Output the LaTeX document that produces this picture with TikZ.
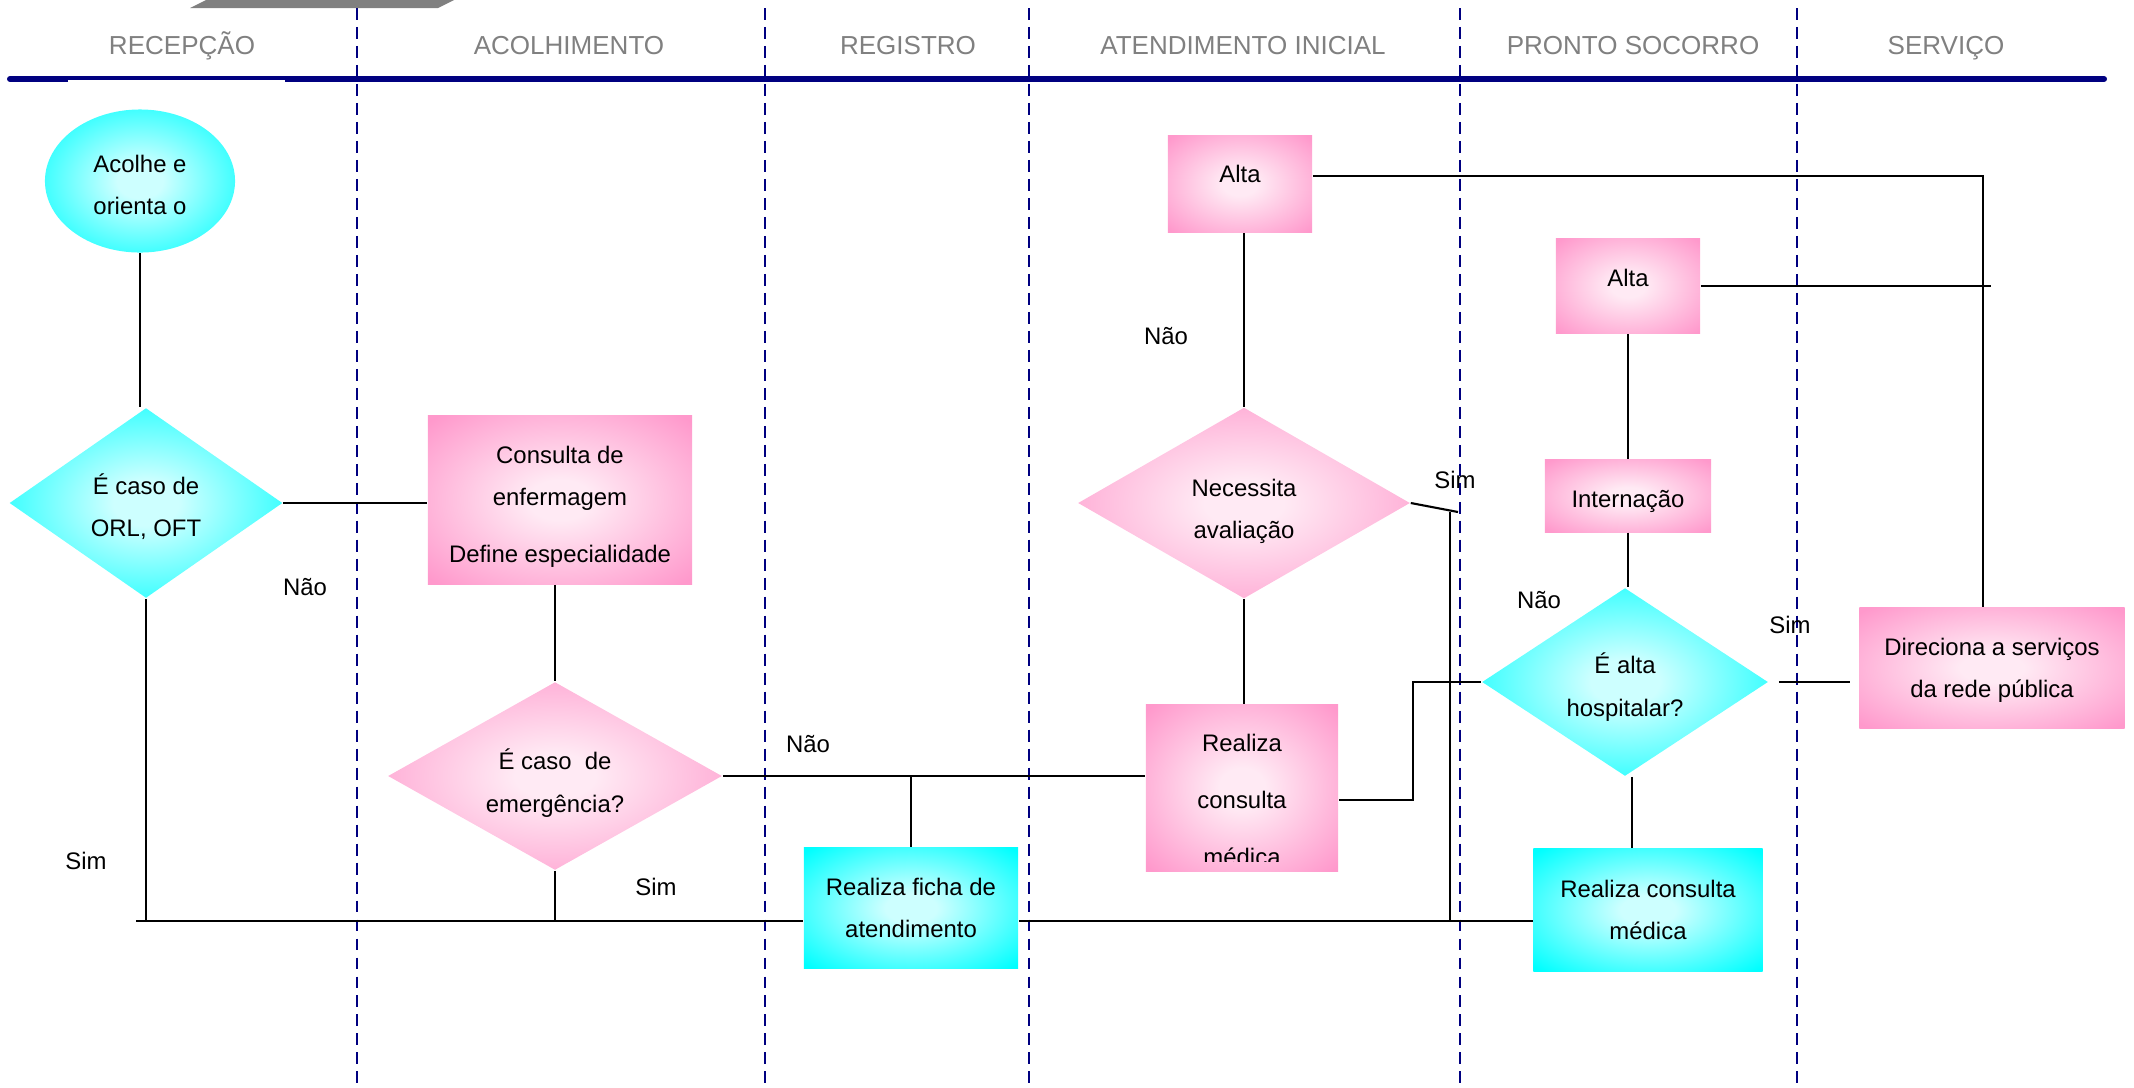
\documentclass[tikz,border=0pt]{standalone}
\usepackage{fontspec}
\setmainfont{Liberation Sans}
\usepackage{tikz}
\usetikzlibrary{shapes.geometric}
\definecolor{navy}{RGB}{0,0,128}
\definecolor{hdrgray}{RGB}{128,128,128}
\definecolor{tabgray}{RGB}{128,128,128}
\definecolor{pinkout}{RGB}{255,153,204}
\definecolor{pinkin}{RGB}{255,234,244}
\definecolor{cyanout}{RGB}{0,255,255}
\definecolor{cyanin}{RGB}{205,255,255}
\pgfdeclareradialshading{pinkglow}{\pgfpoint{0bp}{0bp}}{color(0bp)=(pinkin); color(6bp)=(pinkin); color(34bp)=(pinkout); color(50bp)=(pinkout)}
\pgfdeclareradialshading{cyanglow}{\pgfpoint{0bp}{0bp}}{color(0bp)=(cyanin); color(6bp)=(cyanin); color(34bp)=(cyanout); color(50bp)=(cyanout)}

\begin{document}
\begin{tikzpicture}[x=0.01cm, y=-0.01cm,
    conn/.style={line width=0.6pt},
    lane/.style={navy, line width=0.6pt, dash pattern=on 3.4pt off 2pt},
    txt/.style={font=\fontsize{6.8pt}{12pt}\selectfont, align=center, inner sep=0pt},
    hdr/.style={font=\fontsize{7.4pt}{9pt}\selectfont, text=hdrgray, anchor=base},
    pinkbox/.style={rectangle, shade, shading=pinkglow, txt},
    cyanbox/.style={rectangle, shade, shading=cyanglow, txt},
    pinkdec/.style={diamond, shade, shading=pinkglow, txt},
    cyandec/.style={diamond, shade, shading=cyanglow, txt}]
    \useasboundingbox (0,0) rectangle (2134,1087);

    \fill[tabgray] (190,8) -- (206,0) -- (454,0) -- (438,8) -- cycle;
    \draw[lane] (357,8) -- (357,1087);
    \draw[lane] (765,8) -- (765,1087);
    \draw[lane] (1029,8) -- (1029,1087);
    \draw[lane] (1460,8) -- (1460,1087);
    \draw[lane] (1797,8) -- (1797,1087);
    \draw[navy, line width=1.7pt, line cap=round] (10,79) -- (2104,79);
    \fill[white] (68,79.5) rectangle (285,81.5);

    \path (182,54) node[hdr] (h-recepcao) {RECEPÇÃO};
    \path (569,54) node[hdr] (h-acolhimento) {ACOLHIMENTO};
    \path (908,54) node[hdr] (h-registro) {REGISTRO};
    \path (1243,54) node[hdr] (h-atendimento) {ATENDIMENTO INICIAL};
    \path (1633,54) node[hdr] (h-pronto) {PRONTO SOCORRO};
    \path (1946,54) node[hdr] (h-servico) {SERVIÇO};

    \path (140,181) node[ellipse, shade, shading=cyanglow, txt, minimum width=1.9cm, minimum height=1.43cm] (acolhe) {};
    \path ([yshift=-0.04cm]acolhe.center) node[txt] (acolhe-txt) {Acolhe e\\orienta o};
    \path (146,503) node[cyandec, minimum width=2.73cm, minimum height=1.9cm] (orl) {};
    \path ([yshift=-0.04cm]orl.center) node[txt] (orl-txt) {É caso de\\ORL, OFT};
    \path (560,500) node[pinkbox, minimum width=2.64cm, minimum height=1.68cm] (consulta) {};
    \path ([yshift=-0.07cm]consulta.center) node[txt] (consulta-txt) {Consulta de\\enfermagem\\[4.2pt]Define especialidade};
    \path (555,776) node[pinkdec, minimum width=3.34cm, minimum height=1.88cm] (emerg) {};
    \path ([yshift=-0.07cm]emerg.center) node[txt] (emerg-txt) {É caso~ de\\emergência?};
    \path (911,908) node[cyanbox, minimum width=2.14cm, minimum height=1.21cm] (ficha) {Realiza ficha de\\atendimento};
    \path (1240,184) node[pinkbox, minimum width=1.44cm, minimum height=0.97cm] (alta1) {};
    \path (1240,174) node[txt] (alta1-txt) {Alta};
    \path (1244,503) node[pinkdec, minimum width=3.32cm, minimum height=1.91cm] (necessita) {};
    \path ([yshift=-0.08cm]necessita.center) node[txt] (necessita-txt) {Necessita\\avaliação};
    \path (1242,788) node[pinkbox, minimum width=1.92cm, minimum height=1.67cm] (rcmpink) {};
    \begin{scope}
        \clip (1146,705) rectangle (1338,861);
        \path (1242,800) node[txt] (rcmpink-txt) {Realiza\\[4.2pt]consulta\\[4.2pt]médica};
    \end{scope}
    \path (1628,286) node[pinkbox, minimum width=1.44cm, minimum height=0.95cm] (alta2) {};
    \path (1628,278) node[txt] (alta2-txt) {Alta};
    \path (1628,496) node[pinkbox, minimum width=1.66cm, minimum height=0.72cm] (internacao) {};
    \path ([yshift=-0.05cm]internacao.center) node[txt] (internacao-txt) {Internação};
    \path (1625,682) node[cyandec, minimum width=2.86cm, minimum height=1.88cm] (ealta) {};
    \path ([yshift=-0.05cm]ealta.center) node[txt] (ealta-txt) {É alta\\hospitalar?};
    \path (1648,910) node[cyanbox, minimum width=2.29cm, minimum height=1.23cm] (rcmcyan) {Realiza consulta\\médica};
    \path (1992,668) node[pinkbox, minimum width=2.65cm, minimum height=1.2cm] (direciona) {};
    \path ([yshift=-0.02cm]direciona.center) node[txt] (direciona-txt) {Direciona a serviços\\da rede pública};

    \coordinate (sim1) at (136,921);
    \coordinate (simtop) at (1450,512);
    \coordinate (volta) at (1413,800);
    \coordinate (topo) at (1983,176);

    \draw[conn] (acolhe.south) -- (acolhe.south |- orl.north);
    \draw[conn] (orl.east) -- (orl.east -| consulta.west);
    \draw[conn] (emerg.north |- consulta.south) -- (emerg.north);
    \draw[conn] (emerg.east) -- (emerg.east -| rcmpink.west);
    \draw[conn] (ficha.north) -- (ficha.north |- emerg.east);
    \draw[conn] (orl.south) -- (orl.south |- sim1);
    \draw[conn] (sim1) -- (sim1 -| ficha.west);
    \draw[conn] (emerg.south) -- (emerg.south |- sim1);
    \draw[conn] (ficha.east |- sim1) -- (sim1 -| rcmcyan.west);
    \draw[conn] (necessita.north |- alta1.south) -- (necessita.north);
    \draw[conn] (necessita.south) -- (necessita.south |- rcmpink.north);
    \draw[conn] (necessita.east) -- ([xshift=0.08cm]simtop);
    \draw[conn] (simtop) -- (simtop |- sim1);
    \draw[conn] (rcmpink.east |- volta) -- (volta) -- (volta |- ealta.west) -- (ealta.west);
    \draw[conn] (alta2.south) -- (internacao.north);
    \draw[conn] (internacao.south) -- (internacao.south |- ealta.north);
    \draw[conn] ([xshift=0.07cm]ealta.south) -- ([xshift=0.07cm]ealta.south |- rcmcyan.north);
    \draw[conn, shorten <=0.1cm, shorten >=0.09cm] (ealta.east) -- (ealta.east -| direciona.west);
    \draw[conn] (alta1.east |- topo) -- (topo) -- (topo |- direciona.north);
    \draw[conn] (alta2.east) -- ([xshift=0.08cm]alta2.east -| topo);

    \path (305,587) node[txt] (nao1) {Não};
    \path (86,861) node[txt] (sim-orl) {Sim};
    \path (808,744) node[txt] (nao2) {Não};
    \path (656,887) node[txt] (sim-emerg) {Sim};
    \path (1166,336) node[txt] (nao3) {Não};
    \path (1455,480) node[txt] (sim-nec) {Sim};
    \path (1539,600) node[txt] (nao4) {Não};
    \path (1790,625) node[txt] (sim-alta) {Sim};
\end{tikzpicture}
\end{document}
